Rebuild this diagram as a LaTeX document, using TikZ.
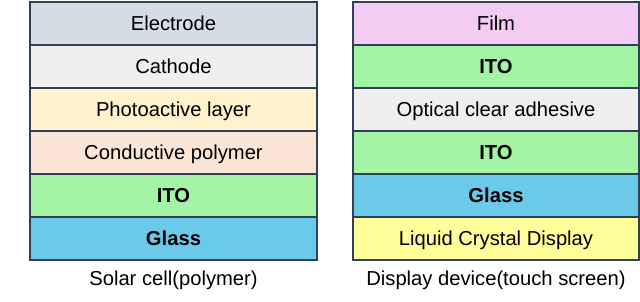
\documentclass[tikz,border=0pt]{standalone}
\usepackage{fontspec}
\setmainfont{Liberation Sans}
\definecolor{cElec}{HTML}{D6DCE5}
\definecolor{cCath}{HTML}{EFEFEF}
\definecolor{cPhoto}{HTML}{FFF2CC}
\definecolor{cCond}{HTML}{FBE5D6}
\definecolor{cITO}{HTML}{A3F5A5}
\definecolor{cGlass}{HTML}{6BCAEA}
\definecolor{cFilm}{HTML}{F3CBF3}
\definecolor{cLCD}{HTML}{FFFF99}
\definecolor{cEdge}{HTML}{2F4058}
\tikzset{
  txt/.style={font=\fontsize{20.2}{23}\selectfont, text height=14.5pt, text depth=0pt},
  layer/.style={txt, draw=cEdge, line width=1.1pt, minimum height=43pt, inner sep=0pt},
  leftlayer/.style={layer, minimum width=287pt},
  rightlayer/.style={layer, minimum width=286pt},
  caption/.style={txt, inner sep=0pt}
}
\begin{document}
\begin{tikzpicture}[x=1pt,y=-1pt]
\useasboundingbox (0,0) rectangle (640,301);
% left stack
\node[leftlayer, fill=cElec]  (l1) at (173.5,23.5)  {Electrode};
\node[leftlayer, fill=cCath]  (l2) at (173.5,66.5)  {Cathode};
\node[leftlayer, fill=cPhoto] (l3) at (173.5,109.5) {Photoactive layer};
\node[leftlayer, fill=cCond]  (l4) at (173.5,152.5) {Conductive polymer};
\node[leftlayer, fill=cITO]   (l5) at (173.5,195.5) {\bfseries ITO};
\node[leftlayer, fill=cGlass] (l6) at (173.5,238.5) {\bfseries Glass};
\node[caption] (lc) at (173.5,278) {Solar cell(polymer)};
% right stack
\node[rightlayer, fill=cFilm]  (r1) at (496,23.5)  {Film};
\node[rightlayer, fill=cITO]   (r2) at (496,66.5)  {\bfseries ITO};
\node[rightlayer, fill=cCath]  (r3) at (496,109.5) {Optical clear adhesive};
\node[rightlayer, fill=cITO]   (r4) at (496,152.5) {\bfseries ITO};
\node[rightlayer, fill=cGlass] (r5) at (496,195.5) {\bfseries Glass};
\node[rightlayer, fill=cLCD]   (r6) at (496,238.5) {Liquid Crystal Display};
\node[caption] (rc) at (496,278) {Display device(touch screen)};
\end{tikzpicture}
\end{document}
